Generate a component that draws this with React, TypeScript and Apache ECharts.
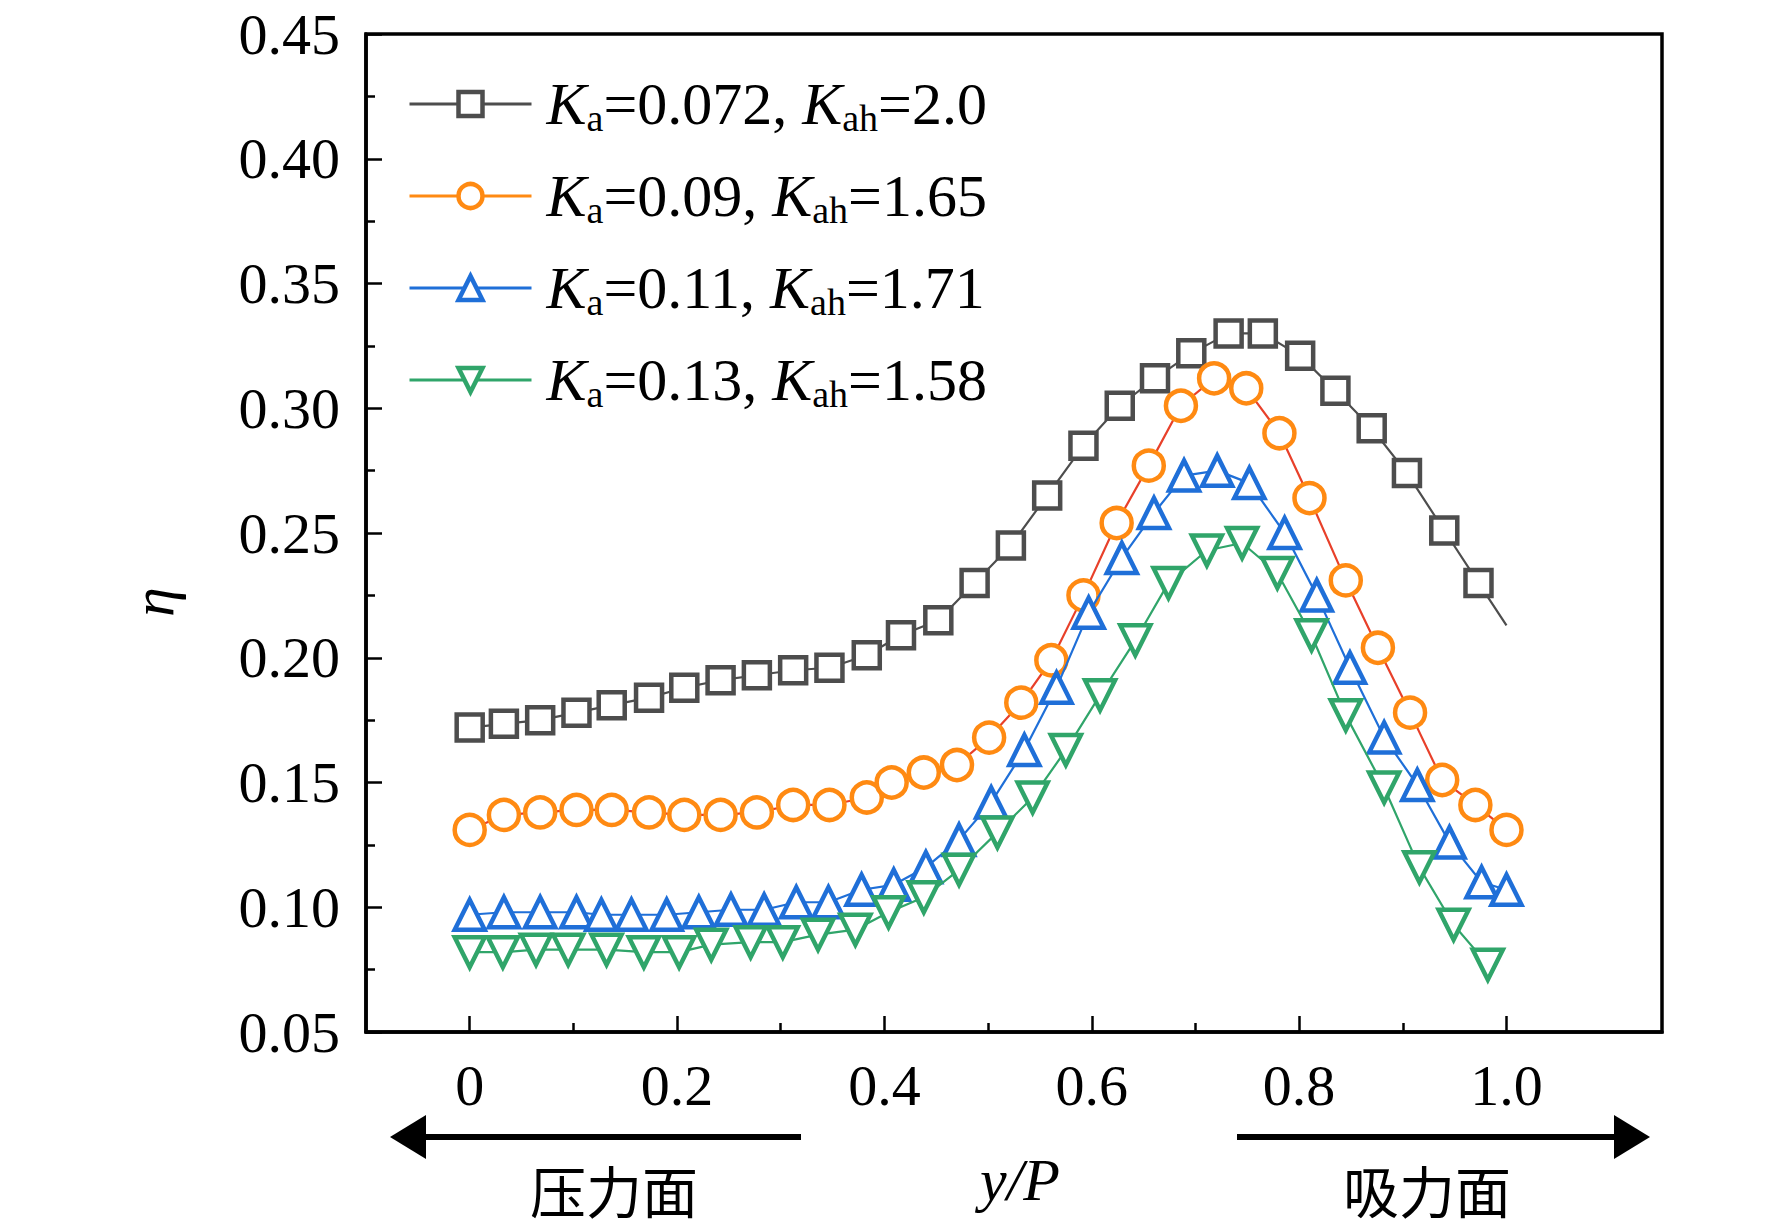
import React, { useEffect, useRef } from "react";
import * as echarts from "echarts";

const xTickLabels = ["0", "0.2", "0.4", "0.6", "0.8", "1.0"];
const seriesNames = ["0.072|2.0", "0.09|1.65", "0.11|1.71", "0.13|1.58"];

// pixel-read positions converted: x = y/P, y = eta
const blackX = [0,0.033,0.068,0.103,0.137,0.173,0.207,0.242,0.277,0.312,0.347,0.383,0.416,0.452,0.487,0.522,0.557,0.592,0.627,0.661,0.696,0.732,0.765,0.801,0.835,0.870,0.904,0.940,0.973,1.0];
const blackY = [0.172,0.1735,0.175,0.178,0.181,0.184,0.188,0.191,0.193,0.195,0.196,0.201,0.209,0.215,0.230,0.245,0.265,0.285,0.301,0.312,0.322,0.330,0.330,0.321,0.307,0.292,0.274,0.251,0.230,0.213];
const orangeX = [0,0.033,0.068,0.103,0.137,0.173,0.207,0.242,0.277,0.312,0.347,0.383,0.407,0.438,0.470,0.501,0.532,0.561,0.592,0.624,0.655,0.686,0.718,0.749,0.781,0.810,0.845,0.876,0.907,0.938,0.970,1.0];
const orangeY = [0.131,0.137,0.138,0.139,0.139,0.138,0.137,0.137,0.138,0.141,0.141,0.144,0.150,0.154,0.157,0.168,0.182,0.199,0.225,0.254,0.277,0.301,0.312,0.308,0.290,0.264,0.231,0.204,0.178,0.151,0.141,0.131];
const blueX = [0,0.033,0.068,0.103,0.127,0.156,0.190,0.221,0.252,0.284,0.315,0.346,0.378,0.409,0.440,0.472,0.503,0.535,0.566,0.597,0.629,0.660,0.689,0.721,0.752,0.786,0.817,0.849,0.882,0.914,0.945,0.976,1.0];
const blueY = [0.097,0.098,0.098,0.098,0.097,0.097,0.097,0.098,0.099,0.099,0.102,0.102,0.107,0.109,0.116,0.127,0.142,0.163,0.188,0.218,0.240,0.258,0.273,0.275,0.270,0.250,0.225,0.196,0.168,0.149,0.126,0.110,0.107];
const greenX = [0,0.032,0.064,0.095,0.132,0.168,0.202,0.233,0.271,0.302,0.336,0.372,0.404,0.438,0.472,0.509,0.543,0.575,0.608,0.642,0.674,0.711,0.745,0.779,0.812,0.845,0.882,0.916,0.949,0.982];
const greenY = [0.082,0.082,0.083,0.083,0.083,0.082,0.082,0.085,0.086,0.086,0.089,0.091,0.098,0.104,0.115,0.130,0.144,0.163,0.185,0.207,0.230,0.243,0.246,0.234,0.209,0.177,0.148,0.116,0.093,0.077];

const colors = ["#4d4d4d", "#ff8a12", "#1f6fd8", "#30a56a"];
const lineColors = ["#4d4d4d", "#e8402a", "#1f6fd8", "#30a56a"];
const symbols = ["rect", "circle", "triangle", "path://M0,0 L10,0 L5,10 Z"];

const zip = (xs: number[], ys: number[]) => xs.map((x, i) => [x, ys[i]]);

export default function App() {
  const ref = useRef<HTMLDivElement>(null);
  useEffect(() => {
    document.body.style.margin = "0";
    const chart = echarts.init(ref.current!, null, { renderer: "svg" });
    const font = "'Liberation Serif', 'Times New Roman', serif";
    const datas = [zip(blackX, blackY), zip(orangeX, orangeY), zip(blueX, blueY), zip(greenX, greenY)];
    datas[0][datas[0].length - 1] = { value: datas[0][datas[0].length - 1], symbol: "none" } as any;
    const series = datas.map((d, i) => ({
      name: seriesNames[i],
      type: "line",
      data: d,
      symbol: symbols[i],
      symbolSize: i === 0 ? 26 : i === 1 ? 30 : 30,
      lineStyle: { color: lineColors[i], width: 2.2 },
      itemStyle: { color: "#fff", borderColor: colors[i], borderWidth: 4.5 },
      z: 2 + i,
    }));
    chart.setOption({
      animation: false,
      backgroundColor: "#fff",
      grid: { left: 366, right: 110, top: 34, bottom: 198, show: true, borderColor: "#000", borderWidth: 3.5, backgroundColor: "transparent" },
      legend: {
        orient: "vertical",
        left: 403,
        top: 66,
        itemWidth: 122,
        itemHeight: 30,
        itemGap: 26,
        data: seriesNames.map((n, i) => ({ name: n, itemStyle: { color: "#fff", borderColor: colors[i], borderWidth: 4.5 }, lineStyle: { color: colors[i], width: 3 } })),
        formatter: (n: string) => {
          const [a, b] = n.split("|");
          return `{k|K}{s|a}{t|=${a}, }{k|K}{s|ah}{t|=${b}}`;
        },
        textStyle: {
          padding: [0, 0, 0, 10],
          rich: {
            k: { fontFamily: font, fontStyle: "italic", fontSize: 60, color: "#000", lineHeight: 62 },
            s: { fontFamily: font, fontSize: 38, color: "#000", padding: [28, 0, 0, 0], lineHeight: 62 },
            t: { fontFamily: font, fontSize: 60, color: "#000", lineHeight: 62 },
          },
        },
      },
      xAxis: [
        {
          type: "value", min: -0.1, max: 1.15,
          axisLine: { show: true, onZero: false, lineStyle: { color: "#000", width: 3.5 } },
          axisTick: { show: true, inside: true, length: 16, customValues: [0, 0.2, 0.4, 0.6, 0.8, 1.0], lineStyle: { color: "#000", width: 2.5 } },
          axisLabel: { customValues: [0, 0.2, 0.4, 0.6, 0.8, 1.0], formatter: (v: number) => xTickLabels[Math.round(v * 5)], fontFamily: font, fontSize: 58, color: "#000", margin: 24 },
          splitLine: { show: false },
        },
        {
          type: "value", min: -0.1, max: 1.15, position: "bottom",
          axisLine: { show: false },
          axisTick: { show: true, inside: true, length: 9, customValues: [0.1, 0.3, 0.5, 0.7, 0.9], lineStyle: { color: "#000", width: 2.5 } },
          axisLabel: { show: false },
          splitLine: { show: false },
        },
      ],
      yAxis: {
        type: "value", min: 0.05, max: 0.45, interval: 0.05,
        axisLine: { show: true, onZero: false, lineStyle: { color: "#000", width: 3.5 } },
        axisTick: { show: true, inside: true, length: 16, lineStyle: { color: "#000", width: 2.5 } },
        minorTick: { show: true, splitNumber: 2, length: 9, lineStyle: { color: "#000", width: 2.5 } },
        axisLabel: { formatter: (v: number) => v.toFixed(2), fontFamily: font, fontSize: 58, color: "#000", margin: 26 },
        splitLine: { show: false },
        minorSplitLine: { show: false },
      },
      graphic: [
        { type: "text", x: 153, y: 602, rotation: Math.PI / 2, style: { text: "η", font: `italic 60px ${font}`, fill: "#000", align: "center", verticalAlign: "middle" } },
        { type: "line", shape: { x1: 420, y1: 1137, x2: 801, y2: 1137 }, style: { stroke: "#000", lineWidth: 6 } },
        { type: "polygon", shape: { points: [[390, 1137], [426, 1115], [426, 1159]] }, style: { fill: "#000" } },
        { type: "line", shape: { x1: 1237, y1: 1137, x2: 1620, y2: 1137 }, style: { stroke: "#000", lineWidth: 6 } },
        { type: "polygon", shape: { points: [[1650, 1137], [1614, 1115], [1614, 1159]] }, style: { fill: "#000" } },
        { type: "text", x: 614, y: 1188, style: { text: "压力面", font: `56px 'Noto Sans CJK SC', serif`, fill: "#000", align: "center", verticalAlign: "middle" } },
        { type: "text", x: 1020, y: 1180, style: { text: "y/P", font: `italic 60px ${font}`, fill: "#000", align: "center", verticalAlign: "middle" } },
        { type: "text", x: 1427, y: 1188, style: { text: "吸力面", font: `56px 'Noto Sans CJK SC', serif`, fill: "#000", align: "center", verticalAlign: "middle" } },
      ],
      series,
    });
    return () => chart.dispose();
  }, []);
  return <div ref={ref} style={{ width: 1772, height: 1230 }} />;
}
